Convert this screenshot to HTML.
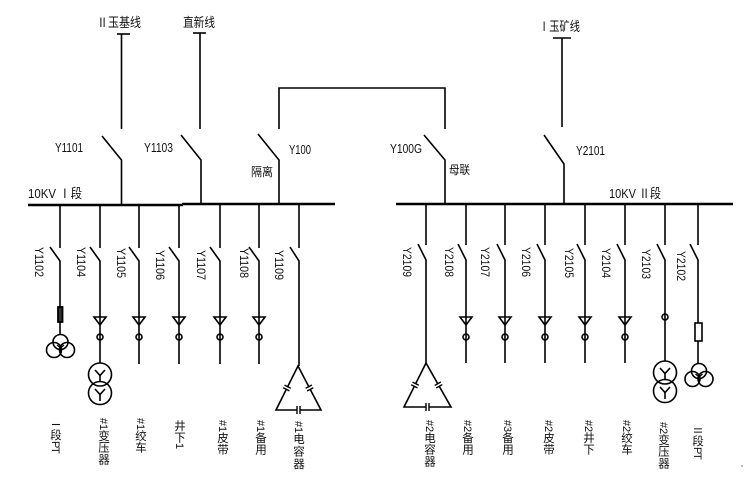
<!DOCTYPE html>
<html><head><meta charset="utf-8"><style>
html,body{margin:0;padding:0;background:#fff;}
svg{display:block;}
.t{font-family:"Liberation Sans","Noto Sans CJK SC",sans-serif;fill:#111;}
.c{font-family:"Liberation Sans","Noto Sans CJK SC",sans-serif;fill:#111;font-size:11.5px;}
.l{font-family:"Liberation Sans","Noto Sans CJK SC",sans-serif;fill:#111;font-size:11px;}
.v{font-family:"Liberation Sans",sans-serif;fill:#111;font-size:11.5px;}
</style></head><body>
<svg width="744" height="478" viewBox="0 0 744 478" xmlns="http://www.w3.org/2000/svg">
<rect width="744" height="478" fill="#fff"/>
<g stroke="#000" stroke-width="1.6" fill="none">
<!-- incoming lines -->
<line x1="117" y1="34" x2="130" y2="34"/><line x1="121.5" y1="34" x2="121.5" y2="129"/>
<line x1="193" y1="33" x2="206" y2="33"/><line x1="200" y1="33" x2="200" y2="129"/>
<line x1="553" y1="38" x2="571" y2="38"/><line x1="562" y1="38" x2="562" y2="127"/>
<polyline points="279,129 279,88 445,88 445,129"/>
<polyline points="102,136 121.5,160 121.5,205"/>
<polyline points="181,135 201,160 201,204"/>
<polyline points="258,134 279,160 279,204"/>
<polyline points="424,135 445,160 445,204"/>
<polyline points="544,135 564,164 564,204"/>
<!-- buses -->
<line x1="28" y1="205" x2="183" y2="205" stroke-width="2.5"/>
<line x1="182" y1="204" x2="335" y2="204" stroke-width="2.5"/>
<line x1="396" y1="204" x2="733" y2="204" stroke-width="2.5"/>

<!-- left feeders -->
<line x1="60" y1="204" x2="60" y2="248"/><polyline points="50,247 60,261 60,307"/>
<line x1="100" y1="204" x2="100" y2="248"/><polyline points="90,247 100,261 100,363"/>
<line x1="139" y1="204" x2="139" y2="248"/><polyline points="129,247 139,261 139,364"/>
<line x1="179" y1="204" x2="179" y2="248"/><polyline points="169,247 179,261 179,364"/>
<line x1="220" y1="204" x2="220" y2="248"/><polyline points="210,247 220,261 220,364"/>
<line x1="259" y1="204" x2="259" y2="248"/><polyline points="249,247 259,261 259,364"/>
<line x1="299" y1="204" x2="299" y2="248"/><polyline points="290,247 299,261 299,366"/>

<!-- right feeders -->
<line x1="426" y1="204" x2="426" y2="245"/><polyline points="418,244 426,260 426,363"/>
<line x1="466" y1="204" x2="466" y2="245"/><polyline points="458,244 466,260 466,363"/>
<line x1="505" y1="204" x2="505" y2="245"/><polyline points="497,244 505,260 505,363"/>
<line x1="545" y1="204" x2="545" y2="245"/><polyline points="537,244 545,260 545,363"/>
<line x1="585" y1="204" x2="585" y2="245"/><polyline points="577,244 585,260 585,363"/>
<line x1="625" y1="204" x2="625" y2="245"/><polyline points="617,244 625,260 625,363"/>
<line x1="665" y1="204" x2="665" y2="245"/><polyline points="657,244 665,260 665,361"/>
<line x1="698" y1="204" x2="698" y2="245"/><polyline points="690,244 698,260 698,323"/>

<!-- triangles + small circles -->
<g>
<polygon points="94,317 106,317 100,325"/><circle cx="100" cy="337" r="3"/>
<polygon points="133,317 145,317 139,325"/><circle cx="139" cy="337" r="3"/>
<polygon points="173,317 185,317 179,325"/><circle cx="179" cy="337" r="3"/>
<polygon points="214,317 226,317 220,325"/><circle cx="220" cy="337" r="3"/>
<polygon points="253,317 265,317 259,325"/><circle cx="259" cy="337" r="3"/>
<polygon points="460,317 472,317 466,325"/><circle cx="466" cy="337" r="3"/>
<polygon points="499,317 511,317 505,325"/><circle cx="505" cy="337" r="3"/>
<polygon points="539,317 551,317 545,325"/><circle cx="545" cy="337" r="3"/>
<polygon points="579,317 591,317 585,325"/><circle cx="585" cy="337" r="3"/>
<polygon points="619,317 631,317 625,325"/><circle cx="625" cy="337" r="3"/>
<circle cx="665" cy="317" r="3"/>
</g>

<!-- left PT -->
<rect x="58" y="307" width="4.5" height="15" stroke-width="1.8" fill="#333"/>
<line x1="60" y1="322" x2="60" y2="335"/>
<circle cx="60.5" cy="342" r="7.5"/><circle cx="54" cy="350" r="7.5"/><circle cx="67" cy="350" r="7.5"/>
<polyline points="57,345 60.5,348 64,345" stroke-width="1.2"/><line x1="60.5" y1="348" x2="60.5" y2="353" stroke-width="1.2"/>

<!-- right PT -->
<rect x="695" y="323" width="7" height="18"/>
<line x1="698" y1="341" x2="698" y2="363"/>
<circle cx="699" cy="371" r="7.5"/><circle cx="692.5" cy="379" r="7.5"/><circle cx="705.5" cy="379" r="7.5"/>
<polyline points="695.5,374 699,377 702.5,374" stroke-width="1.2"/><line x1="699" y1="377" x2="699" y2="382" stroke-width="1.2"/>

<!-- left transformer -->
<circle cx="100" cy="374.5" r="11.5"/><circle cx="100" cy="393" r="11.5"/>
<polyline points="95,370 100,375.5 105,370"/><line x1="100" y1="375.5" x2="100" y2="382"/>
<polyline points="95,389 100,394.5 105,389"/><line x1="100" y1="394.5" x2="100" y2="401"/>

<!-- right transformer -->
<circle cx="665" cy="372.5" r="11.5"/><circle cx="665" cy="391" r="11.5"/>
<polyline points="660,368 665,373.5 670,368"/><line x1="665" y1="373.5" x2="665" y2="380"/>
<polyline points="660,387 665,392.5 670,387"/><line x1="665" y1="392.5" x2="665" y2="399"/>

<!-- capacitor banks -->
<polygon points="298,366 276,410 321,410"/>
<polygon points="426,363 404,407 451,407"/>
</g>

<!-- capacitor plates -->
<g stroke="#000" stroke-width="1.4" fill="none">
<g transform="translate(287,388) rotate(116.6)"><rect x="-1" y="-2" width="2" height="4" fill="#fff" stroke="none"/><line x1="-1.5" y1="-3.5" x2="-1.5" y2="3.5"/><line x1="1.5" y1="-3.5" x2="1.5" y2="3.5"/></g>
<g transform="translate(309.5,388) rotate(62.4)"><rect x="-1" y="-2" width="2" height="4" fill="#fff" stroke="none"/><line x1="-1.5" y1="-3.5" x2="-1.5" y2="3.5"/><line x1="1.5" y1="-3.5" x2="1.5" y2="3.5"/></g>
<g transform="translate(298.5,410)"><rect x="-1" y="-2" width="2" height="4" fill="#fff" stroke="none"/><line x1="-1.5" y1="-4" x2="-1.5" y2="4"/><line x1="1.5" y1="-4" x2="1.5" y2="4"/></g>
<g transform="translate(415,385) rotate(116.6)"><rect x="-1" y="-2" width="2" height="4" fill="#fff" stroke="none"/><line x1="-1.5" y1="-3.5" x2="-1.5" y2="3.5"/><line x1="1.5" y1="-3.5" x2="1.5" y2="3.5"/></g>
<g transform="translate(438.5,385) rotate(60.4)"><rect x="-1" y="-2" width="2" height="4" fill="#fff" stroke="none"/><line x1="-1.5" y1="-3.5" x2="-1.5" y2="3.5"/><line x1="1.5" y1="-3.5" x2="1.5" y2="3.5"/></g>
<g transform="translate(427.5,407)"><rect x="-1" y="-2" width="2" height="4" fill="#fff" stroke="none"/><line x1="-1.5" y1="-4" x2="-1.5" y2="4"/><line x1="1.5" y1="-4" x2="1.5" y2="4"/></g>
</g>

<!-- horizontal labels -->
<g class="t">
<text x="97" y="27" font-size="13" textLength="44" lengthAdjust="spacingAndGlyphs">Ⅱ玉基线</text>
<text x="183" y="27" font-size="13" textLength="32" lengthAdjust="spacingAndGlyphs">直新线</text>
<text x="539" y="31" font-size="13" textLength="41" lengthAdjust="spacingAndGlyphs">Ⅰ玉矿线</text>
<text x="55" y="152" font-size="13" textLength="28" lengthAdjust="spacingAndGlyphs">Y1101</text>
<text x="144" y="152" font-size="13" textLength="29" lengthAdjust="spacingAndGlyphs">Y1103</text>
<text x="289" y="154" font-size="13" textLength="22" lengthAdjust="spacingAndGlyphs">Y100</text>
<text x="251" y="176" font-size="12" textLength="22" lengthAdjust="spacingAndGlyphs">隔离</text>
<text x="28" y="198" font-size="13" textLength="54" lengthAdjust="spacingAndGlyphs">10KV Ⅰ段</text>
<text x="390" y="153" font-size="13" textLength="32" lengthAdjust="spacingAndGlyphs">Y100G</text>
<text x="449" y="174" font-size="12" textLength="21" lengthAdjust="spacingAndGlyphs">母联</text>
<text x="576" y="155" font-size="13" textLength="29" lengthAdjust="spacingAndGlyphs">Y2101</text>
<text x="609" y="198" font-size="13" textLength="52" lengthAdjust="spacingAndGlyphs">10KV Ⅱ段</text>
</g>

<!-- vertical switch labels -->
<g class="v">
<text transform="translate(35,247) rotate(90)" textLength="30" lengthAdjust="spacingAndGlyphs">Y1102</text>
<text transform="translate(77,247) rotate(90)" textLength="30" lengthAdjust="spacingAndGlyphs">Y1104</text>
<text transform="translate(117,248) rotate(90)" textLength="30" lengthAdjust="spacingAndGlyphs">Y1105</text>
<text transform="translate(156,250) rotate(90)" textLength="30" lengthAdjust="spacingAndGlyphs">Y1106</text>
<text transform="translate(197,250) rotate(90)" textLength="30" lengthAdjust="spacingAndGlyphs">Y1107</text>
<text transform="translate(240,248) rotate(90)" textLength="30" lengthAdjust="spacingAndGlyphs">Y1108</text>
<text transform="translate(275,250) rotate(90)" textLength="30" lengthAdjust="spacingAndGlyphs">Y1109</text>
<text transform="translate(403,247) rotate(90)" textLength="30" lengthAdjust="spacingAndGlyphs">Y2109</text>
<text transform="translate(445,247) rotate(90)" textLength="30" lengthAdjust="spacingAndGlyphs">Y2108</text>
<text transform="translate(481,247) rotate(90)" textLength="30" lengthAdjust="spacingAndGlyphs">Y2107</text>
<text transform="translate(522,247) rotate(90)" textLength="30" lengthAdjust="spacingAndGlyphs">Y2106</text>
<text transform="translate(565,248) rotate(90)" textLength="30" lengthAdjust="spacingAndGlyphs">Y2105</text>
<text transform="translate(602,248) rotate(90)" textLength="30" lengthAdjust="spacingAndGlyphs">Y2104</text>
<text transform="translate(642,249) rotate(90)" textLength="30" lengthAdjust="spacingAndGlyphs">Y2103</text>
<text transform="translate(677,251) rotate(90)" textLength="30" lengthAdjust="spacingAndGlyphs">Y2102</text>
</g>

<!-- bottom vertical labels -->
<g text-anchor="middle">
<text class="l" text-anchor="start" transform="translate(52,419) rotate(90)">Ⅰ</text>
<text class="c" x="56" y="439">段</text>
<text class="l" text-anchor="start" transform="translate(52,441) rotate(90)">P</text>
<text class="l" text-anchor="start" transform="translate(52,447) rotate(90)">T</text>

<text class="l" text-anchor="start" transform="translate(100,418) rotate(90)">#</text>
<text class="l" text-anchor="start" transform="translate(100,424) rotate(90)">1</text>
<text class="c" x="104" y="440">变</text><text class="c" x="104" y="451.7">压</text><text class="c" x="104" y="463.4">器</text>

<text class="l" text-anchor="start" transform="translate(137,418) rotate(90)">#</text>
<text class="l" text-anchor="start" transform="translate(137,424) rotate(90)">1</text>
<text class="c" x="141" y="440">绞</text><text class="c" x="141" y="451.7">车</text>

<text class="c" x="180" y="430">井</text><text class="c" x="180" y="441.7">下</text>
<text class="l" text-anchor="start" transform="translate(176,443) rotate(90)">1</text>

<text class="l" text-anchor="start" transform="translate(219,420) rotate(90)">#</text>
<text class="l" text-anchor="start" transform="translate(219,426) rotate(90)">1</text>
<text class="c" x="223" y="442">皮</text><text class="c" x="223" y="453.7">带</text>

<text class="l" text-anchor="start" transform="translate(257,420) rotate(90)">#</text>
<text class="l" text-anchor="start" transform="translate(257,426) rotate(90)">1</text>
<text class="c" x="261" y="442">备</text><text class="c" x="261" y="453.7">用</text>

<text class="l" text-anchor="start" transform="translate(295,421) rotate(90)">#</text>
<text class="l" text-anchor="start" transform="translate(295,427) rotate(90)">1</text>
<text class="c" x="299" y="443">电</text><text class="c" x="299" y="455.5">容</text><text class="c" x="299" y="468">器</text>

<text class="l" text-anchor="start" transform="translate(426,420) rotate(90)">#</text>
<text class="l" text-anchor="start" transform="translate(426,426) rotate(90)">2</text>
<text class="c" x="430" y="442">电</text><text class="c" x="430" y="453.7">容</text><text class="c" x="430" y="465.4">器</text>

<text class="l" text-anchor="start" transform="translate(464,420) rotate(90)">#</text>
<text class="l" text-anchor="start" transform="translate(464,426) rotate(90)">2</text>
<text class="c" x="468" y="442">备</text><text class="c" x="468" y="453.7">用</text>

<text class="l" text-anchor="start" transform="translate(504,420) rotate(90)">#</text>
<text class="l" text-anchor="start" transform="translate(504,426) rotate(90)">3</text>
<text class="c" x="508" y="442">备</text><text class="c" x="508" y="453.7">用</text>

<text class="l" text-anchor="start" transform="translate(545,420) rotate(90)">#</text>
<text class="l" text-anchor="start" transform="translate(545,426) rotate(90)">2</text>
<text class="c" x="549" y="442">皮</text><text class="c" x="549" y="453.7">带</text>

<text class="l" text-anchor="start" transform="translate(585,420) rotate(90)">#</text>
<text class="l" text-anchor="start" transform="translate(585,426) rotate(90)">2</text>
<text class="c" x="589" y="442">井</text><text class="c" x="589" y="453.7">下</text>

<text class="l" text-anchor="start" transform="translate(623,420) rotate(90)">#</text>
<text class="l" text-anchor="start" transform="translate(623,426) rotate(90)">2</text>
<text class="c" x="627" y="442">绞</text><text class="c" x="627" y="453.7">车</text>

<text class="l" text-anchor="start" transform="translate(660,422) rotate(90)">#</text>
<text class="l" text-anchor="start" transform="translate(660,428) rotate(90)">2</text>
<text class="c" x="664" y="444">变</text><text class="c" x="664" y="455.7">压</text><text class="c" x="664" y="467.4">器</text>

<text class="l" text-anchor="start" transform="translate(694,425) rotate(90)">Ⅱ</text>
<text class="c" x="698" y="445">段</text>
<text class="l" text-anchor="start" transform="translate(694,447) rotate(90)">P</text>
<text class="l" text-anchor="start" transform="translate(694,453) rotate(90)">T</text>
</g>
<rect x="741" y="465" width="2" height="2" fill="#bbb"/>
</svg>
</body></html>
